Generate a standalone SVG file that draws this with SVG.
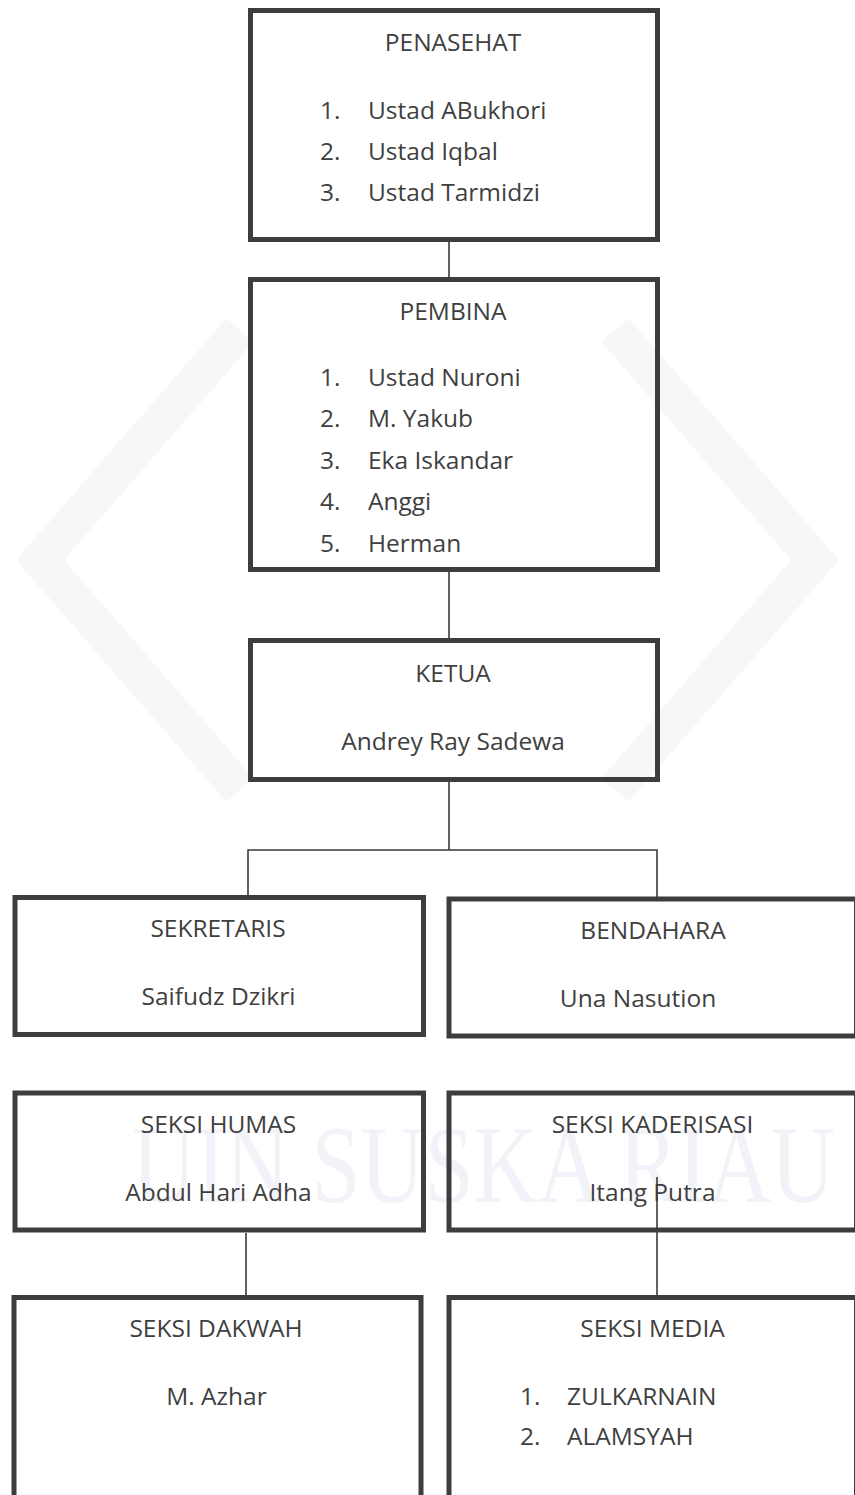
<svg xmlns="http://www.w3.org/2000/svg" width="855" height="1495" viewBox="0 0 855 1495">
<style>
.box{fill:none;stroke:#3d3d3d;stroke-width:5}
.t{font-family:"Open Sans","Liberation Sans",sans-serif;font-size:24.5px;fill:#3f3f3f}
.c{text-anchor:middle}
.ln{fill:none;stroke:#3a3a3a;stroke-width:1.6}
.wm{font-family:"Liberation Serif",serif;font-size:110px;fill:#f2f3f8}
.wmshape{fill:none;stroke:#f7f7f7;stroke-width:36}
</style>
<rect width="855" height="1495" fill="#ffffff"/>
<g id="watermark">
<polyline class="wmshape" points="240,330 40,560 240,790"/>
<polyline class="wmshape" points="615,330 815,560 615,790"/>
<text class="wm" x="132" y="1202" textLength="703" lengthAdjust="spacingAndGlyphs">UIN SUSKA RIAU</text>
</g>
<g id="connectors">
<line class="ln" x1="449" y1="242" x2="449" y2="277"/>
<line class="ln" x1="449" y1="572" x2="449" y2="638"/>
<line class="ln" x1="449" y1="782" x2="449" y2="850"/>
<polyline class="ln" points="248,896 248,850 657,850 657,897"/>
<line class="ln" x1="246" y1="1233" x2="246" y2="1295"/>
<line class="ln" x1="657" y1="1177" x2="657" y2="1295"/>
</g>
<g id="penasehat">
<rect class="box" x="250.5" y="10.5" width="407" height="229"/>
<text class="t c" x="453" y="51">PENASEHAT</text>
<text class="t" x="320" y="119">1.</text><text class="t" x="368" y="119">Ustad ABukhori</text>
<text class="t" x="320" y="160">2.</text><text class="t" x="368" y="160">Ustad Iqbal</text>
<text class="t" x="320" y="201">3.</text><text class="t" x="368" y="201">Ustad Tarmidzi</text>
</g>
<g id="pembina">
<rect class="box" x="250.5" y="279.5" width="407" height="290"/>
<text class="t c" x="453" y="320">PEMBINA</text>
<text class="t" x="320" y="386">1.</text><text class="t" x="368" y="386">Ustad Nuroni</text>
<text class="t" x="320" y="427">2.</text><text class="t" x="368" y="427">M. Yakub</text>
<text class="t" x="320" y="469">3.</text><text class="t" x="368" y="469">Eka Iskandar</text>
<text class="t" x="320" y="510">4.</text><text class="t" x="368" y="510">Anggi</text>
<text class="t" x="320" y="552">5.</text><text class="t" x="368" y="552">Herman</text>
</g>
<g id="ketua">
<rect class="box" x="250.5" y="640.5" width="407" height="139"/>
<text class="t c" x="453" y="682">KETUA</text>
<text class="t c" x="453" y="750">Andrey Ray Sadewa</text>
</g>
<g id="sekretaris">
<rect class="box" x="15" y="897.5" width="408.5" height="137"/>
<text class="t c" x="218" y="937">SEKRETARIS</text>
<text class="t c" x="218.5" y="1005">Saifudz Dzikri</text>
</g>
<g id="bendahara">
<rect class="box" x="449" y="899" width="407.5" height="137"/>
<text class="t c" x="653" y="939">BENDAHARA</text>
<text class="t c" x="638" y="1007">Una Nasution</text>
</g>
<g id="seksi-humas">
<rect class="box" x="15" y="1093" width="408.5" height="137"/>
<text class="t c" x="218.5" y="1133">SEKSI HUMAS</text>
<text class="t c" x="218.5" y="1201">Abdul Hari Adha</text>
</g>
<g id="seksi-kaderisasi">
<rect class="box" x="449" y="1093" width="407.5" height="137"/>
<text class="t c" x="652.5" y="1133">SEKSI KADERISASI</text>
<text class="t c" x="652.5" y="1201">Itang Putra</text>
</g>
<g id="seksi-dakwah">
<rect class="box" x="14" y="1297.5" width="407" height="210"/>
<text class="t c" x="216" y="1337">SEKSI DAKWAH</text>
<text class="t c" x="216.5" y="1405">M. Azhar</text>
</g>
<g id="seksi-media">
<rect class="box" x="449" y="1297.5" width="407.5" height="210"/>
<text class="t c" x="652.5" y="1337">SEKSI MEDIA</text>
<text class="t" x="520" y="1405">1.</text><text class="t" x="567" y="1405">ZULKARNAIN</text>
<text class="t" x="520" y="1445">2.</text><text class="t" x="567" y="1445">ALAMSYAH</text>
</g>
</svg>
